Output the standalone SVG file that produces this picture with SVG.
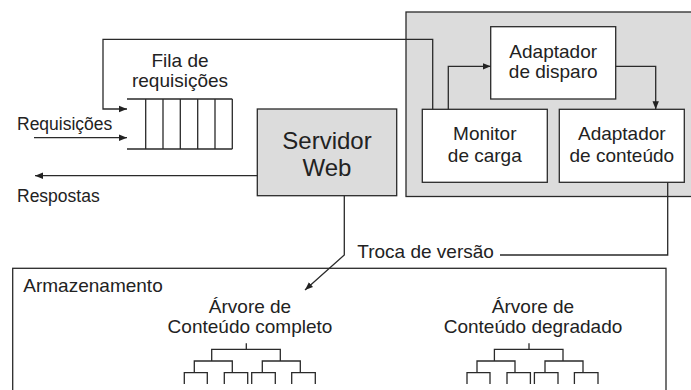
<svg xmlns="http://www.w3.org/2000/svg" width="691" height="390" viewBox="0 0 691 390">
  <defs>
    <marker id="arrow" viewBox="0 0 10 10" refX="10" refY="5" markerWidth="8" markerHeight="8" markerUnits="userSpaceOnUse" orient="auto">
      <path d="M0,1 L10,5 L0,9 Z" fill="#222"/>
    </marker>
  </defs>
  <style>
    .ln { fill: none; stroke: #2a2a2a; stroke-width: 1.3; }
    .arr { fill: none; stroke: #2a2a2a; stroke-width: 1.3; marker-end: url(#arrow); }
    .box { fill: #fff; stroke: #2a2a2a; stroke-width: 1.3; }
    .gbox { fill: #dcdcdc; stroke: #2a2a2a; stroke-width: 1.3; }
    text { font-family: "Liberation Sans", Arial, sans-serif; fill: #222; }
    .t19 { font-size: 19px; }
    .t17 { font-size: 17.5px; }
    .t24 { font-size: 24px; }
    .c { text-anchor: middle; }
  </style>

  <rect width="691" height="390" fill="#fff"/>

  <!-- adaptation layer background -->
  <g id="adaptacao">
    <rect class="gbox" x="406" y="12" width="290" height="184.5"/>
  </g>

  <!-- storage -->
  <g id="armazenamento">
    <rect class="box" x="12.7" y="268.3" width="653.3" height="130"/>
    <text class="t19" x="23.3" y="291.7">Armazenamento</text>
  </g>

  <g id="arvore-completo">
    <text class="t19 c" x="250" y="313.3">Árvore de</text>
    <text class="t19 c" x="250" y="333.3">Conteúdo completo</text>
    <path class="ln" d="M246.3,343.3 V349.3 M211.7,361 V349.3 H280.3 V361
      M194.3,372.7 V361 H232.3 V372.7 M262.3,372.7 V361 H300.3 V372.7
      M184.3,384 V372.7 H207.3 V384 M224.3,384 V372.7 H247.7 V384
      M251.7,384 V372.7 H275.3 V384 M291.7,384 V372.7 H315.3 V384"/>
  </g>

  <g id="arvore-degradado">
    <text class="t19 c" x="533" y="313.3">Árvore de</text>
    <text class="t19 c" x="533" y="333.3">Conteúdo degradado</text>
    <path class="ln" transform="translate(282.7,0)" d="M246.3,343.3 V349.3 M211.7,361 V349.3 H280.3 V361
      M194.3,372.7 V361 H232.3 V372.7 M262.3,372.7 V361 H300.3 V372.7
      M184.3,384 V372.7 H207.3 V384 M224.3,384 V372.7 H247.7 V384
      M251.7,384 V372.7 H275.3 V384 M291.7,384 V372.7 H315.3 V384"/>
  </g>

  <!-- request queue -->
  <g id="fila">
    <text class="t19 c" x="180" y="67">Fila de</text>
    <text class="t19 c" x="180" y="87">requisições</text>
    <path class="ln" d="M127,99 H232.3 M127,149 H232.3
      M145.7,99 V149 M163,99 V149 M180.3,99 V149 M197.7,99 V149 M215,99 V149 M232.3,99 V149"/>
  </g>

  <g id="servidor">
    <rect class="gbox" x="257.3" y="109" width="139.4" height="86.7"/>
    <text class="t24 c" x="327" y="149">Servidor</text>
    <text class="t24 c" x="327" y="175.7">Web</text>
  </g>

  <g id="disparo">
    <rect class="box" x="490.7" y="26.7" width="125" height="72.3"/>
    <text class="t19 c" x="553.2" y="58.3">Adaptador</text>
    <text class="t19 c" x="553.2" y="78.3">de disparo</text>
  </g>

  <g id="monitor">
    <rect class="box" x="422.3" y="109.3" width="125" height="73"/>
    <text class="t19 c" x="484.8" y="140">Monitor</text>
    <text class="t19 c" x="484.8" y="161.7">de carga</text>
  </g>

  <g id="conteudo">
    <rect class="box" x="559.3" y="109.3" width="125" height="73"/>
    <text class="t19 c" x="621.8" y="140">Adaptador</text>
    <text class="t19 c" x="621.8" y="161.7">de conteúdo</text>
  </g>

  <!-- free labels -->
  <g id="rotulos">
    <text class="t17" x="17" y="130">Requisições</text>
    <text class="t17" x="17" y="201.7">Respostas</text>
    <text class="t19" x="357.3" y="258.3">Troca de versão</text>
  </g>

  <!-- connectors -->
  <g id="conectores">
    <path class="arr" d="M432.7,109.3 V39.3 H103 V109 H127"/>
    <path class="arr" d="M34,137.7 H127"/>
    <path class="arr" d="M257.3,175.7 H35"/>
    <path class="arr" d="M448.3,109.3 V66.3 H490.7"/>
    <path class="arr" d="M615.7,66.3 H655.7 V109.3"/>
    <path class="ln" d="M667.7,182.3 V255 H500"/>
    <path class="arr" d="M344.3,195.7 V255 L305,290"/>
  </g>
</svg>
